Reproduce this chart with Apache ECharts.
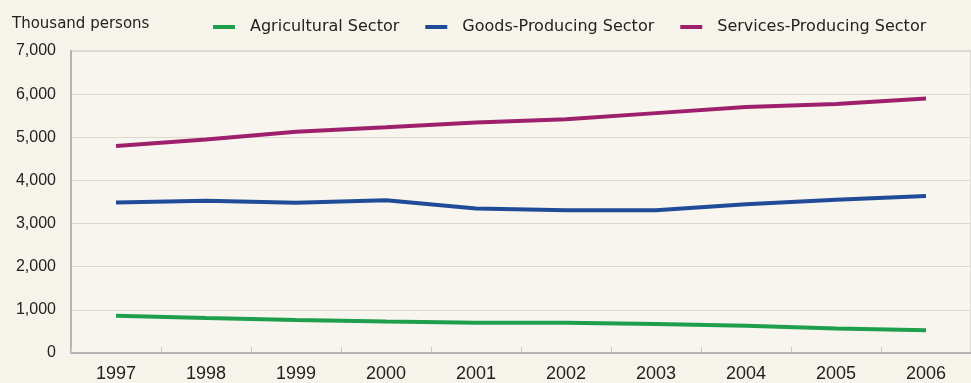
<!DOCTYPE html>
<html>
<head>
<meta charset="utf-8">
<script src="https://cdn.jsdelivr.net/npm/echarts@6/dist/echarts.min.js"></script>
<style>
  html, body { margin: 0; padding: 0; background: #f6f3ea; }
  #main { width: 971px; height: 383px; }
</style>
</head>
<body>
<div id="main"></div>
<script>
var years = ['1997', '1998', '1999', '2000', '2001', '2002', '2003', '2004', '2005', '2006'];
var agricultural = [865, 810, 765, 730, 700, 700, 670, 630, 570, 530];
var goods = [3490, 3530, 3480, 3540, 3350, 3310, 3310, 3450, 3550, 3640];
var services = [4800, 4950, 5130, 5230, 5340, 5420, 5560, 5700, 5770, 5900];

var myChart = echarts.init(document.getElementById('main'), null, { renderer: 'canvas' });

function line(name, data, color) {
  return {
    name: name,
    type: 'line',
    data: data,
    symbol: 'none',
    smooth: false,
    lineStyle: { width: 4, color: color },
    itemStyle: { color: color },
    animation: false
  };
}

var option = {
  backgroundColor: '#f6f3ea',
  title: {
    text: 'Thousand persons',
    left: 7,
    top: 12,
    textStyle: { fontFamily: 'DejaVu Sans', fontSize: 15, fontWeight: 'normal', color: '#222' }
  },
  legend: {
    left: 208,
    top: 14,
    icon: 'rect',
    itemWidth: 22,
    itemHeight: 4,
    itemGap: 26,
    textStyle: { fontFamily: 'DejaVu Sans', fontSize: 16, color: '#222', padding: [0, 0, 0, 10] },
    data: ['Agricultural Sector', 'Goods-Producing Sector', 'Services-Producing Sector']
  },
  grid: {
    left: 71,
    right: -15,
    top: 51,
    bottom: 30,
    show: true,
    borderColor: '#c4c2bd',
    borderWidth: 1,
    backgroundColor: '#f7f5ee'
  },
  xAxis: {
    type: 'category',
    data: years,
    boundaryGap: true,
    axisLine: { lineStyle: { color: '#b3b3b3', width: 2 } },
    axisTick: { show: true, inside: true, length: 6, lineStyle: { color: '#c8c8c8' } },
    axisLabel: { fontFamily: 'Liberation Sans', fontSize: 18, color: '#222', margin: 12 }
  },
  yAxis: {
    type: 'value',
    min: 0,
    max: 7000,
    interval: 1000,
    axisLine: { show: true, lineStyle: { color: '#b3b3b3', width: 2 } },
    axisTick: { show: false },
    splitLine: { lineStyle: { color: '#dcd9d3', width: 1 } },
    axisLabel: {
      fontFamily: 'Liberation Sans',
      fontSize: 16,
      color: '#222',
      margin: 15,
      formatter: function (v) { return v.toLocaleString('en-US'); }
    }
  },
  series: [
    line('Agricultural Sector', agricultural, '#1f9e4b'),
    line('Goods-Producing Sector', goods, '#1f4b98'),
    line('Services-Producing Sector', services, '#9e206c')
  ]
};

myChart.setOption(option);
</script>
</body>
</html>
